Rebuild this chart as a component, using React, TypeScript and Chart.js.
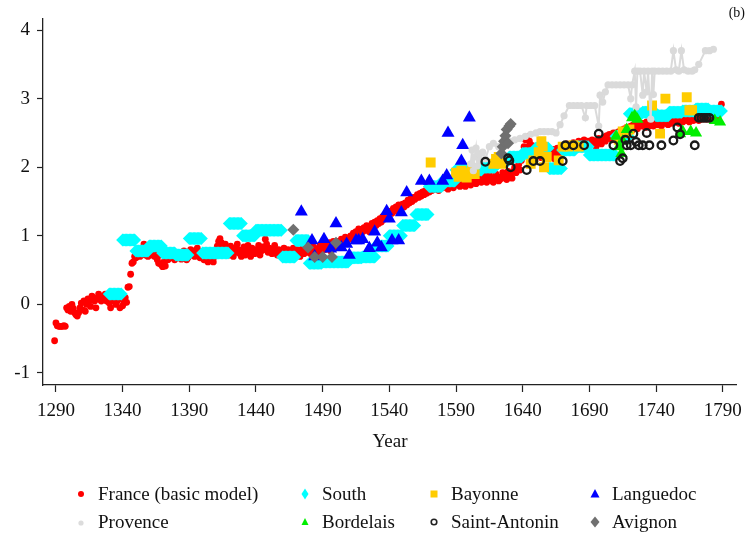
import { useEffect, useRef } from "react";
import { Chart, registerables } from "chart.js";

Chart.register(...registerables);

// France (basic model): annual values starting 1289
const franceStart = 1289;
const franceValues = [
  -0.53,
  -0.27, -0.31, -0.32, -0.32, -0.32, -0.32, -0.31, -0.32, -0.05, -0.08,
  -0.03, -0.1, 0.0, -0.06, -0.12, -0.15, -0.17, -0.12, -0.05, 0.02,
  -0.08, 0.05, -0.1, 0.0, 0.08, 0.05, -0.03, 0.12, 0.1, 0.05,
  -0.05, 0.08, 0.15, 0.1, 0.05, 0.12, 0.08, 0.15, 0.05, 0.1,
  0.02, -0.05, 0.05, 0.08, 0.1, 0.0, 0.05, 0.08, -0.05, 0.1,
  -0.02, 0.02, 0.1, 0.03, 0.25, 0.26, 0.44, 0.6, 0.62, 0.7,
  0.68, 0.72, 0.78, 0.7, 0.75, 0.82, 0.88, 0.72, 0.78, 0.7,
  0.8, 0.75, 0.72, 0.82, 0.7, 0.78, 0.65, 0.6, 0.72, 0.58,
  0.55, 0.62, 0.56, 0.7, 0.65, 0.72, 0.68, 0.75, 0.7, 0.65,
  0.72, 0.68, 0.75, 0.7, 0.66, 0.72, 0.78, 0.7, 0.65, 0.68,
  0.75, 0.8, 0.72, 0.78, 0.7, 0.75, 0.82, 0.72, 0.68, 0.75,
  0.7, 0.65, 0.72, 0.68, 0.62, 0.7, 0.66, 0.72, 0.62, 0.7,
  0.78, 0.85, 0.92, 0.96, 0.9, 0.85, 0.82, 0.88, 0.78, 0.8,
  0.72, 0.85, 0.78, 0.7, 0.82, 0.76, 0.88, 0.8, 0.74, 0.7,
  0.78, 0.84, 0.72, 0.8, 0.86, 0.76, 0.7, 0.82, 0.78, 0.74,
  0.8, 0.76, 0.86, 0.72, 0.78, 0.84, 0.8, 0.95, 0.88, 0.76,
  0.82, 0.78, 0.74, 0.8, 0.86, 0.76, 0.72, 0.8, 0.78, 0.74,
  0.78, 0.82, 0.72, 0.76, 0.8, 0.7, 0.74, 0.78, 0.82, 0.76,
  0.72, 0.8, 0.76, 0.7, 0.78, 0.82, 0.74, 0.8, 0.84, 0.76,
  0.8, 0.74, 0.78, 0.84, 0.72, 0.8, 0.76, 0.82, 0.86, 0.78,
  0.82, 0.86, 0.8, 0.88, 0.84, 0.9, 0.78, 0.86, 0.92, 0.84,
  0.86, 0.92, 0.88, 0.84, 0.95, 0.9, 0.93, 0.98, 0.92, 0.96,
  0.95, 1.0, 0.97, 1.04, 0.99, 1.06, 1.02, 1.1, 1.05, 1.08,
  1.06, 1.12, 1.08, 1.15, 1.1, 1.06, 1.14, 1.18, 1.12, 1.2,
  1.15, 1.22, 1.18, 1.25, 1.2, 1.28, 1.24, 1.3, 1.27, 1.34,
  1.3, 1.36, 1.33, 1.4, 1.36, 1.42, 1.38, 1.45, 1.4, 1.44,
  1.46, 1.42, 1.48, 1.45, 1.52, 1.48, 1.54, 1.5, 1.56, 1.53,
  1.55, 1.6, 1.56, 1.62, 1.58, 1.64, 1.6, 1.66, 1.62, 1.68,
  1.64, 1.7, 1.66, 1.72, 1.68, 1.74, 1.7, 1.66, 1.72, 1.76,
  1.7, 1.74, 1.78, 1.72, 1.68, 1.76, 1.8, 1.74, 1.7, 1.78,
  1.74, 1.8, 1.76, 1.72, 1.78, 1.82, 1.76, 1.72, 1.8, 1.84,
  1.78, 1.74, 1.82, 1.86, 1.8, 1.76, 1.84, 1.88, 1.82, 1.78,
  1.86, 1.9, 1.82, 1.78, 1.88, 1.92, 1.84, 1.8, 1.78, 1.86,
  1.9, 1.84, 1.8, 1.82, 1.86, 1.92, 1.88, 1.84, 1.82, 1.94,
  1.9, 1.86, 1.84, 1.94, 2.0, 1.92, 1.98, 2.04, 1.96, 2.1,
  2.15, 2.3, 2.4, 2.45, 2.3, 2.38, 2.25, 2.32, 2.2, 2.28,
  2.22, 2.3, 2.18, 2.26, 2.14, 2.22, 2.28, 2.16, 2.24, 2.2,
  2.14, 2.22, 2.18, 2.26, 2.12, 2.2, 2.28, 2.16, 2.24, 2.3,
  2.22, 2.3, 2.26, 2.34, 2.28, 2.32, 2.24, 2.3, 2.36, 2.28,
  2.34, 2.3, 2.38, 2.32, 2.28, 2.36, 2.4, 2.34, 2.3, 2.38,
  2.32, 2.36, 2.4, 2.34, 2.38, 2.3, 2.36, 2.42, 2.38, 2.34,
  2.4, 2.44, 2.38, 2.46, 2.42, 2.48, 2.44, 2.4, 2.5, 2.46,
  2.5, 2.46, 2.52, 2.48, 2.54, 2.5, 2.56, 2.52, 2.58, 2.54,
  2.56, 2.6, 2.54, 2.62, 2.58, 2.6, 2.56, 2.62, 2.6, 2.64,
  2.6, 2.64, 2.58, 2.66, 2.62, 2.6, 2.64, 2.66, 2.6, 2.64,
  2.66, 2.62, 2.68, 2.64, 2.6, 2.66, 2.7, 2.64, 2.68, 2.62,
  2.66, 2.7, 2.64, 2.68, 2.72, 2.66, 2.7, 2.64, 2.68, 2.72,
  2.66, 2.7, 2.74, 2.68, 2.72, 2.66, 2.7, 2.74, 2.68, 2.72,
  2.7, 2.74, 2.68, 2.72, 2.76, 2.7, 2.74, 2.72, 2.7, 2.74,
  2.72, 2.7, 2.74, 2.72, 2.76, 2.74, 2.78, 2.76, 2.8, 2.92,
];

// South: decadal values, shown for each year of the decade
const southDecades = [
  1330, 1340, 1350, 1360, 1370, 1380, 1390, 1400, 1410, 1420, 1430, 1440,
  1450, 1460, 1470, 1480, 1490, 1500, 1510, 1520, 1530, 1540, 1550, 1560,
  1570, 1580, 1590, 1600, 1610, 1620, 1630, 1640, 1650, 1660, 1670, 1680,
  1690, 1700, 1710, 1720, 1730, 1740, 1750, 1760, 1770, 1780,
];
const southValues = [
  0.15, 0.94, 0.78, 0.85, 0.75, 0.72, 0.96, 0.75, 0.75, 1.18, 1.0, 1.08,
  1.08, 0.69, 0.93, 0.6, 0.62, 0.62, 0.68, 0.69, 0.85, 1.0, 1.15, 1.31,
  1.72, 1.8, 1.96, 1.96, 2.0, 2.1, 2.15, 2.2, 2.28, 1.98, 2.25, 2.3,
  2.18, 2.18, 2.45, 2.78, 2.8, 2.75, 2.8, 2.82, 2.85, 2.82,
];

const bayonneYears = [
  1571, 1590, 1592, 1594, 1596, 1598, 1600, 1602, 1604, 1618, 1620, 1622,
  1624, 1646, 1648, 1652, 1654, 1655, 1656, 1658, 1667, 1670, 1674, 1678,
  1682, 1712, 1715, 1718, 1720, 1737, 1743, 1747, 1763, 1765, 1767,
];
const bayonneValues = [
  2.07, 1.92, 1.86, 1.95, 1.9, 1.85, 1.92, 1.98, 1.9, 2.05, 2.12, 2.15,
  2.05, 2.05, 2.1, 2.22, 2.38, 2.3, 2.0, 2.15, 2.1, 2.3, 2.3, 2.32,
  2.3, 2.4, 2.52, 2.5, 2.55, 2.9, 2.49, 3.0, 3.02, 2.83, 2.83,
];

const languedocYears = [
  1474, 1482, 1484, 1491, 1496, 1500, 1504, 1508, 1510, 1515, 1517, 1520,
  1525, 1529, 1531, 1534, 1538, 1540, 1542, 1547, 1549, 1553, 1564, 1570,
  1580, 1583, 1584, 1594, 1595, 1600,
];
const languedocValues = [
  1.35, 0.93, 0.7, 0.95, 0.81, 1.18, 0.83, 0.88, 0.72, 0.93, 0.93, 0.95,
  0.82, 1.06, 0.9, 0.83, 1.36, 1.25, 0.93, 0.93, 1.34, 1.63, 1.8, 1.8,
  1.8, 1.88, 2.5, 2.09, 2.32, 2.72,
];

const provenceYears = [
  1601, 1602, 1603, 1604, 1605, 1606, 1607, 1608, 1610, 1612, 1615, 1618,
  1622, 1626, 1630, 1634, 1638, 1642, 1646, 1650, 1653, 1656, 1659, 1662,
  1665, 1668, 1671, 1675, 1678, 1681, 1684, 1687, 1688, 1691, 1694, 1697,
  1698, 1700, 1702, 1704, 1707, 1710, 1713, 1716, 1719, 1721, 1722, 1724,
  1725, 1726, 1728, 1730, 1731, 1733, 1734, 1736, 1737, 1738, 1739, 1742,
  1745, 1748, 1751, 1753, 1755, 1757, 1759, 1761, 1764, 1767, 1769, 1772,
  1777, 1780, 1783,
];
const provenceValues = [
  2.05, 2.25, 1.95, 2.15, 2.28, 2.02, 2.2, 2.1, 2.22, 2.12, 2.3, 2.35,
  2.3, 2.35, 2.38, 2.4, 2.42, 2.45, 2.48, 2.5, 2.52, 2.52, 2.52, 2.52,
  2.5, 2.62, 2.75, 2.9, 2.9, 2.9, 2.9, 2.72, 2.9, 2.9, 2.9, 2.6,
  3.05, 2.95, 3.1, 3.2, 3.2, 3.2, 3.2, 3.2, 3.2, 3.0, 3.2, 3.4,
  2.88, 3.4, 3.4, 3.05, 3.4, 3.1, 3.4, 2.7, 3.4, 3.06, 3.4, 3.4,
  3.4, 3.4, 3.4, 3.7, 3.42, 3.4, 3.7, 3.42, 3.4, 3.4, 3.42, 3.5,
  3.7, 3.7, 3.72,
];

const bordelaisYears = [
  1710, 1712, 1714, 1715, 1718, 1722, 1724, 1726, 1758, 1760, 1766, 1770,
  1784, 1788,
];
const bordelaisValues = [
  2.45, 2.3, 2.2, 2.38, 2.55, 2.72, 2.75, 2.7, 2.49, 2.52, 2.52, 2.5,
  2.68, 2.66,
];

const stAntoninYears = [
  1612, 1629, 1630, 1631, 1643, 1648, 1653, 1670, 1672, 1678, 1686, 1697,
  1708, 1713, 1715, 1717, 1718, 1721, 1723, 1725, 1727, 1730, 1733, 1735,
  1744, 1753, 1756, 1758, 1769, 1772, 1774, 1776, 1778, 1780,
];
const stAntoninValues = [
  2.08, 2.13, 2.1, 2.0, 1.96, 2.09, 2.09, 2.09, 2.32, 2.32, 2.32, 2.49,
  2.32, 2.09, 2.13, 2.4, 2.32, 2.32, 2.49, 2.37, 2.32, 2.32, 2.5, 2.32,
  2.32, 2.39, 2.58, 2.48, 2.32, 2.72, 2.72, 2.72, 2.72, 2.72,
];

const avignonYears = [
  1468, 1479, 1484, 1490, 1497, 1500, 1624, 1625, 1626, 1627, 1628, 1629,
  1630, 1631,
];
const avignonValues = [
  1.09, 0.83, 0.69, 0.69, 0.69, 0.9, 2.2, 2.3, 2.38, 2.46, 2.55, 2.35,
  2.6, 2.63,
];

const xTicks = [1290, 1340, 1390, 1440, 1490, 1540, 1590, 1640, 1690, 1740, 1790];
const yTicks = [-1, 0, 1, 2, 3, 4];

const FONT = '"Liberation Serif", "Times New Roman", serif';

const pairs = (xs: number[], ys: number[]) => xs.map((x, i) => ({ x, y: ys[i] }));

type LegendItem = { label: string; marker: string; x: number; y: number };
const legendItems: LegendItem[] = [
  { label: "France (basic model)", marker: "france", x: 81, y: 494 },
  { label: "South", marker: "south", x: 305, y: 494 },
  { label: "Bayonne", marker: "bayonne", x: 434, y: 494 },
  { label: "Languedoc", marker: "languedoc", x: 595, y: 494 },
  { label: "Provence", marker: "provence", x: 81, y: 522 },
  { label: "Bordelais", marker: "bordelais", x: 305, y: 522 },
  { label: "Saint-Antonin", marker: "stantonin", x: 434, y: 522 },
  { label: "Avignon", marker: "avignon", x: 595, y: 522 },
];

function Marker({ kind }: { kind: string }) {
  let shape: any = null;
  switch (kind) {
    case "france":
      shape = <circle cx={8} cy={8} r={3} fill="#ff0000" />;
      break;
    case "south":
      shape = <polygon points="8,2.5 11.5,8 8,13.5 4.5,8" fill="#00ffff" />;
      break;
    case "bayonne":
      shape = <rect x={4.5} y={4.5} width={7} height={7} fill="#ffcc00" />;
      break;
    case "languedoc":
      shape = <polygon points="8,3 12.5,11.5 3.5,11.5" fill="#0000ff" />;
      break;
    case "provence":
      shape = <circle cx={8} cy={9} r={2.6} fill="#dcdcdc" />;
      break;
    case "bordelais":
      shape = <polygon points="8,4 11.5,11 4.5,11" fill="#00ee00" />;
      break;
    case "stantonin":
      shape = <circle cx={8} cy={8} r={2.8} fill="none" stroke="#222" strokeWidth={1.6} />;
      break;
    case "avignon":
      shape = <polygon points="8,2.5 12.5,8 8,13.5 3.5,8" fill="#707070" />;
      break;
  }
  return (
    <svg width={16} height={16} style={{ position: "absolute", left: -8, top: -8 }}>
      {shape}
    </svg>
  );
}

export default function App() {
  const ref = useRef<HTMLCanvasElement>(null);

  useEffect(() => {
    const france = franceValues.map((v, i) => ({ x: franceStart + i, y: v }));
    const south = southDecades.flatMap((d, i) =>
      Array.from({ length: 10 }, (_, k) => ({ x: d + k, y: southValues[i] }))
    );

    const chart = new Chart(ref.current as HTMLCanvasElement, {
      type: "scatter",
      data: {
        datasets: [
          {
            label: "Saint-Antonin",
            data: pairs(stAntoninYears, stAntoninValues),
            pointStyle: "circle",
            pointRadius: 3.8,
            backgroundColor: "rgba(0,0,0,0)",
            borderColor: "#1a1a1a",
            borderWidth: 2.3,
            order: 1,
          },
          {
            label: "Avignon",
            data: pairs(avignonYears, avignonValues),
            pointStyle: "rectRot",
            pointRadius: 6,
            backgroundColor: "#707070",
            borderColor: "#707070",
            borderWidth: 0,
            order: 2,
          },
          {
            label: "Bordelais",
            data: pairs(bordelaisYears, bordelaisValues),
            pointStyle: "triangle",
            pointRadius: 7,
            backgroundColor: "#00ee00",
            borderColor: "#00ee00",
            borderWidth: 0,
            order: 3,
          },
          {
            label: "Provence",
            type: "line",
            data: pairs(provenceYears, provenceValues),
            showLine: true,
            borderColor: "#dadada",
            borderWidth: 2,
            pointStyle: "circle",
            pointRadius: 3.6,
            pointBackgroundColor: "#dadada",
            pointBorderWidth: 0,
            fill: false,
            tension: 0,
            order: 4,
          } as any,
          {
            label: "Languedoc",
            data: pairs(languedocYears, languedocValues),
            pointStyle: "triangle",
            pointRadius: 7.5,
            backgroundColor: "#0000ff",
            borderColor: "#0000ff",
            borderWidth: 0,
            order: 5,
          },
          {
            label: "Bayonne",
            data: pairs(bayonneYears, bayonneValues),
            pointStyle: "rect",
            pointRadius: 7,
            backgroundColor: "#ffcc00",
            borderColor: "#ffcc00",
            borderWidth: 0,
            order: 6,
          },
          {
            label: "South",
            data: south,
            pointStyle: "rectRot",
            pointRadius: 6.5,
            backgroundColor: "#00ffff",
            borderColor: "#00ffff",
            borderWidth: 0,
            order: 7,
          },
          {
            label: "France (basic model)",
            data: france,
            pointStyle: "circle",
            pointRadius: 3.4,
            backgroundColor: "#ff0000",
            borderColor: "#ff0000",
            borderWidth: 0,
            order: 8,
          },
        ],
      },
      options: {
        animation: false,
        responsive: false,
        maintainAspectRatio: false,
        events: [],
        layout: { padding: { top: 13, right: 13, left: 0, bottom: 0 } },
        plugins: {
          legend: { display: false },
          tooltip: { enabled: false },
        },
        scales: {
          x: {
            type: "linear",
            min: 1280.3,
            max: 1800,
            afterBuildTicks: (s: any) => {
              s.ticks = xTicks.map((v) => ({ value: v }));
            },
            afterFit: (s: any) => {
              s.height = 152;
            },
            grid: { drawOnChartArea: false, tickLength: 7, color: "#222", tickWidth: 1.2 },
            border: { color: "#222", width: 1.3 },
            ticks: {
              color: "#111",
              font: { family: FONT, size: 19 },
              padding: 8,
              maxRotation: 0,
              autoSkip: false,
              callback: (v: any) => String(v),
            },
          },
          y: {
            type: "linear",
            min: -1.175,
            max: 4.17,
            afterBuildTicks: (s: any) => {
              s.ticks = yTicks.map((v) => ({ value: v }));
            },
            afterFit: (s: any) => {
              s.width = 43;
            },
            grid: { drawOnChartArea: false, tickLength: 6, color: "#222", tickWidth: 1.2 },
            border: { color: "#222", width: 1.3 },
            ticks: {
              color: "#111",
              font: { family: FONT, size: 19 },
              padding: 7,
              autoSkip: false,
              callback: (v: any) => String(v),
            },
          },
        },
      },
    });
    return () => chart.destroy();
  }, []);

  return (
    <div
      style={{
        position: "fixed",
        left: 0,
        top: 0,
        width: 750,
        height: 537,
        background: "#fff",
        fontFamily: FONT,
        color: "#111",
        overflow: "hidden",
      }}
    >
      <canvas ref={ref} width={750} height={537} style={{ position: "absolute", left: 0, top: 0 }} />
      <div
        style={{
          position: "absolute",
          right: 5,
          top: 5,
          fontSize: 14,
          lineHeight: "16px",
        }}
      >
        (b)
      </div>
      <div
        style={{
          position: "absolute",
          left: 290,
          width: 200,
          top: 429,
          textAlign: "center",
          fontSize: 19,
          lineHeight: "24px",
        }}
      >
        Year
      </div>
      {legendItems.map((it) => (
        <div key={it.label} style={{ position: "absolute", left: it.x, top: it.y }}>
          <Marker kind={it.marker} />
          <span
            style={{
              position: "absolute",
              left: 17,
              top: -12,
              fontSize: 19,
              lineHeight: "24px",
              whiteSpace: "nowrap",
            }}
          >
            {it.label}
          </span>
        </div>
      ))}
    </div>
  );
}
